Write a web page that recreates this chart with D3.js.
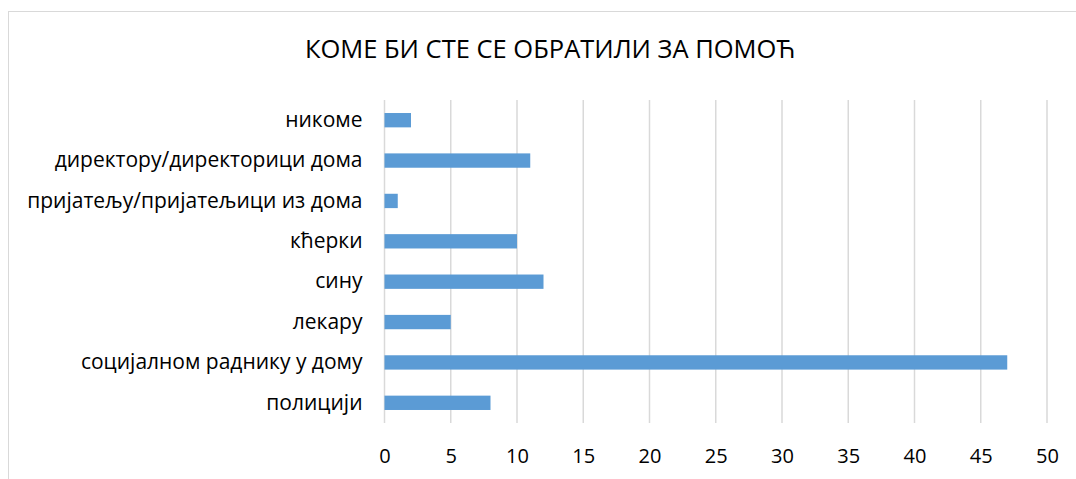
<!DOCTYPE html>
<html>
<head>
<meta charset="utf-8">
<script src="https://cdn.jsdelivr.net/npm/d3@7"></script>
<style>
  body { margin: 0; background: #fff; }
  svg { display: block; font-family: "Open Sans", sans-serif; }
</style>
</head>
<body>
<svg id="chart" width="1076" height="479"></svg>
<script>
var chartTitle = "КОМЕ БИ СТЕ СЕ ОБРАТИЛИ ЗА ПОМОЋ";
var categories = [
    "никоме",
    "директору/директорици дома",
    "пријатељу/пријатељици из дома",
    "кћерки",
    "сину",
    "лекару",
    "социјалном раднику у дому",
    "полицији"
];
var values = [2, 11, 1, 10, 12, 5, 47, 8];
var xTicks = [0, 5, 10, 15, 20, 25, 30, 35, 40, 45, 50];

var svg = d3.select("#chart");

// chart frame (runs off the right and bottom of the picture)
svg.append("rect")
    .attr("x", 8.5).attr("y", 11.5)
    .attr("width", 1100).attr("height", 500)
    .attr("fill", "#fff")
    .attr("stroke", "#d9d9d9")
    .attr("stroke-width", 1);

var plot = {left: 384.5, right: 1047, top: 100, bottom: 423};

var x = d3.scaleLinear().domain([0, 50]).range([plot.left, plot.right]);
var y = d3.scaleBand().domain(categories).range([plot.top, plot.bottom]).paddingInner(0.645).paddingOuter(0.3225);

// gridlines
svg.append("g").selectAll("line")
    .data(xTicks).enter().append("line")
    .attr("x1", function(d){ return x(d); })
    .attr("x2", function(d){ return x(d); })
    .attr("y1", plot.top).attr("y2", plot.bottom)
    .attr("stroke", "#d9d9d9")
    .attr("stroke-width", 1.5);

// bars
svg.append("g").selectAll("rect")
    .data(values).enter().append("rect")
    .attr("x", x(0))
    .attr("y", function(d, i){ return y(categories[i]); })
    .attr("width", function(d){ return x(d) - x(0); })
    .attr("height", y.bandwidth())
    .attr("fill", "#5b9bd5");

// x axis labels
var xAxis = d3.axisBottom(x).tickValues(xTicks).tickSize(0).tickPadding(0);
var gx = svg.append("g").attr("transform", "translate(0," + 445 + ")").call(xAxis);
gx.select(".domain").remove();
gx.selectAll("text")
    .attr("font-family", "Open Sans, sans-serif")
    .attr("font-size", 20)
    .attr("fill", "#000")
    .attr("dy", "0.88em");

// category labels
var yAxis = d3.axisLeft(y).tickSize(0).tickPadding(22);
var gy = svg.append("g").attr("transform", "translate(" + x(0) + ",0)").call(yAxis);
gy.select(".domain").remove();
gy.selectAll("text")
    .attr("font-family", "Open Sans, sans-serif")
    .attr("font-size", 21)
    .attr("fill", "#000");

// title
svg.append("text")
    .attr("x", 550).attr("y", 58)
    .attr("text-anchor", "middle")
    .attr("font-size", 25.5)
    .attr("fill", "#000")
    .text(chartTitle);
</script>
</body>
</html>
